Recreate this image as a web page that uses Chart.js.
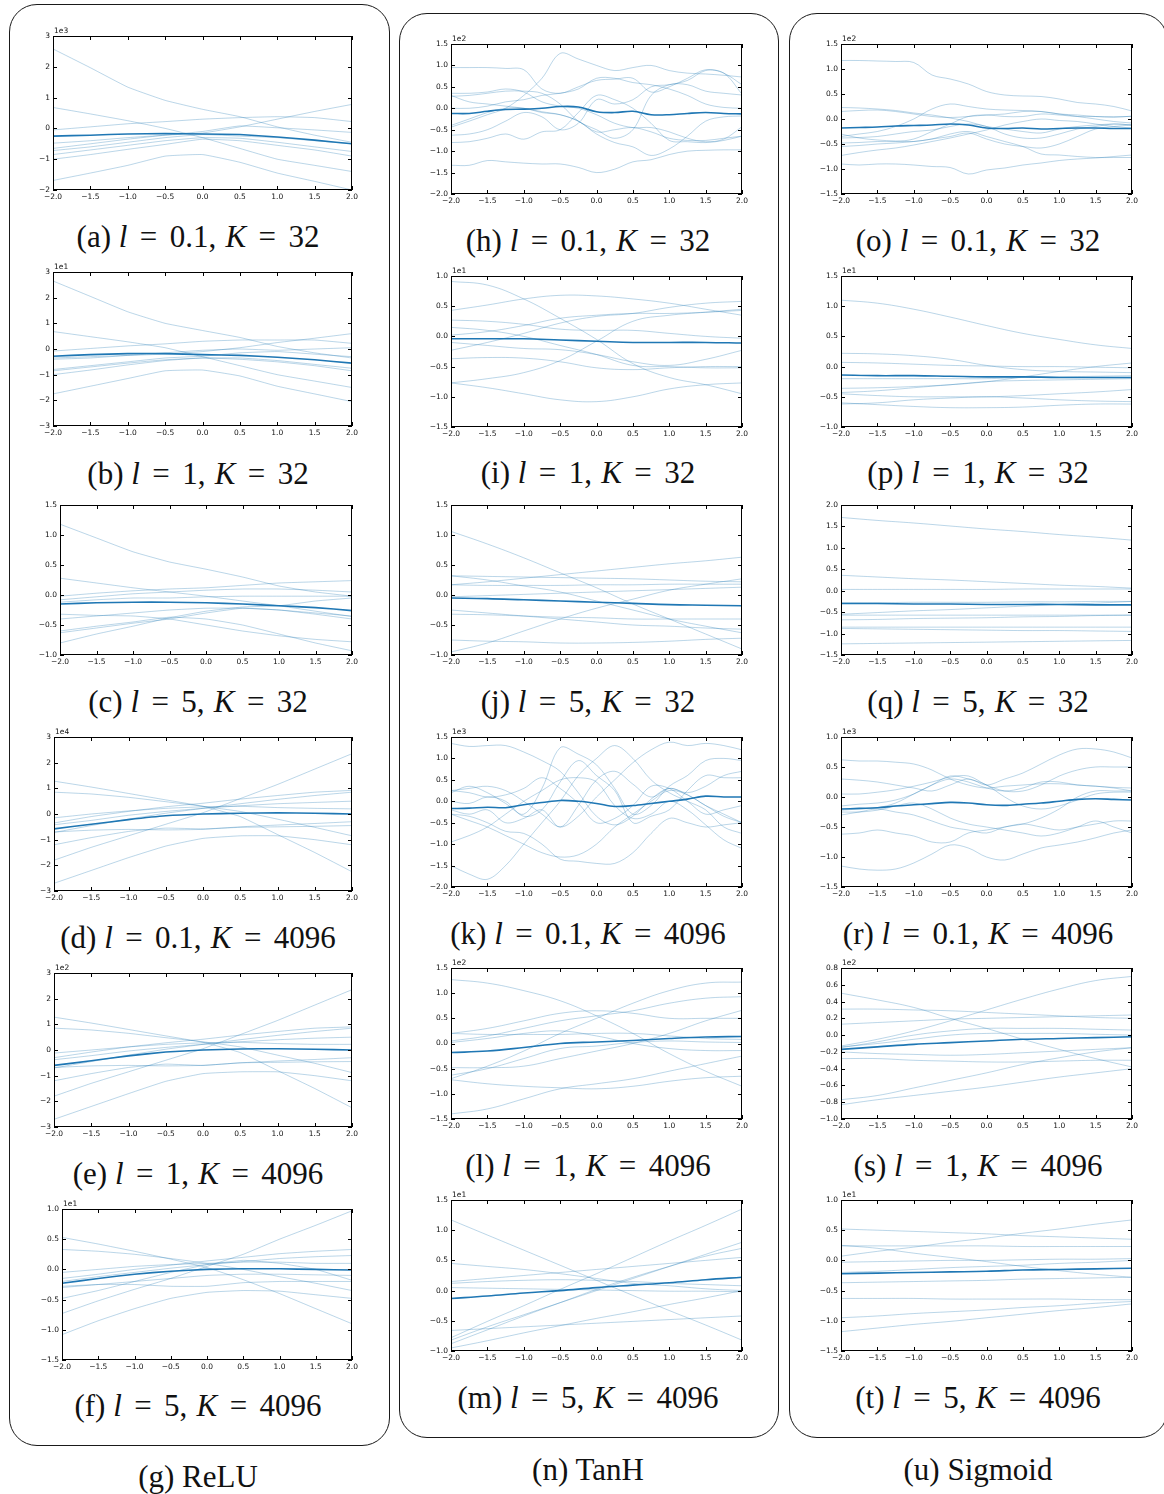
<!DOCTYPE html>
<html>
<head>
<meta charset="utf-8">
<script src="https://cdn.jsdelivr.net/npm/chart.js@4.4.1/dist/chart.umd.min.js"></script>
<style>
  html, body { margin: 0; padding: 0; background: #fff; }
  body { width: 1164px; height: 1494px; position: relative; overflow: hidden; }
  .frame { position: absolute; border: 1.2px solid #1a1a1a; border-radius: 28px; box-sizing: border-box; }
  canvas { position: absolute; }
  .cap { position: absolute; width: 420px; text-align: center; font-family: "Liberation Serif", "Times New Roman", serif;
         font-size: 31px; line-height: 36px; color: #111; white-space: nowrap; }
  .cap i { font-style: italic; }
  .cap .eq { margin: 0 0.4em; }
  .cap .th { display: inline-block; width: 0.3em; }
</style>
</head>
<body>
<script>
// ---- sample inputs ----
const X_COARSE = [-2, -1.5, -1, -0.5, 0, 0.5, 1, 1.5, 2];
const X_FINE = [-2, -1.75, -1.5, -1.25, -1, -0.75, -0.5, -0.25, 0, 0.25, 0.5, 0.75, 1, 1.25, 1.5, 1.75, 2];

// ---- ReLU ----
const meanA = [-0.25, -0.22, -0.18, -0.17, -0.18, -0.2, -0.28, -0.38, -0.5];
const runsA = [
  [2.58, 1.97, 1.34, 0.91, 0.62, 0.38, 0.05, -0.22, -0.45],
  [0.68, 0.47, 0.25, 0.0, -0.3, -0.65, -1.0, -1.2, -1.4],
  [-1.69, -1.45, -1.2, -0.9, -0.85, -1.1, -1.45, -1.72, -2.0],
  [-0.05, 0.05, 0.15, 0.22, 0.3, 0.35, 0.38, 0.35, 0.22],
  [-0.48, -0.4, -0.3, -0.22, -0.15, 0.05, 0.3, 0.55, 0.78],
  [-0.65, -0.5, -0.35, -0.22, -0.1, 0.08, 0.02, -0.05, -0.13],
  [-0.72, -0.6, -0.45, -0.3, -0.2, -0.25, -0.3, -0.4, -0.5],
  [-0.85, -0.7, -0.55, -0.4, -0.3, -0.32, -0.45, -0.6, -0.75],
  [-1.0, -0.85, -0.68, -0.52, -0.35, -0.4, -0.55, -0.7, -0.9]
];
const meanB = [-0.28, -0.22, -0.18, -0.18, -0.22, -0.25, -0.32, -0.42, -0.55];
const runsB = [
  [2.65, 2.05, 1.45, 1.0, 0.72, 0.45, 0.1, -0.15, -0.35],
  [0.68, 0.48, 0.28, 0.05, -0.3, -0.65, -1.0, -1.25, -1.5],
  [-1.75, -1.45, -1.15, -0.85, -0.82, -1.05, -1.45, -1.75, -2.05],
  [-0.08, 0.02, 0.12, 0.2, 0.3, 0.35, 0.35, 0.35, 0.22],
  [-0.35, -0.3, -0.25, -0.2, -0.1, 0.05, 0.25, 0.42, 0.6],
  [-0.4, -0.35, -0.25, -0.15, -0.05, 0.0, -0.05, 0.0, 0.05],
  [-0.8, -0.65, -0.5, -0.35, -0.28, -0.15, -0.1, -0.2, -0.3],
  [-0.85, -0.7, -0.55, -0.42, -0.35, -0.35, -0.45, -0.6, -0.75],
  [-1.0, -0.82, -0.62, -0.45, -0.35, -0.4, -0.5, -0.65, -0.85]
];
const meanC = [-0.15, -0.13, -0.12, -0.12, -0.13, -0.15, -0.18, -0.21, -0.26];
const runsC = [
  [1.18, 0.95, 0.72, 0.55, 0.43, 0.3, 0.15, 0.05, -0.02],
  [0.28, 0.2, 0.12, 0.05, -0.02, -0.1, -0.18, -0.27, -0.36],
  [-0.02, 0.03, 0.07, 0.1, 0.12, 0.16, 0.2, 0.22, 0.24],
  [-0.08, -0.03, 0.02, 0.05, 0.08, 0.1, 0.1, 0.08, 0.05],
  [-0.12, -0.08, -0.05, -0.05, -0.03, -0.02, -0.02, -0.02, -0.02],
  [-0.32, -0.34, -0.35, -0.4, -0.5, -0.6, -0.68, -0.74, -0.78],
  [-0.4, -0.35, -0.3, -0.25, -0.22, -0.22, -0.25, -0.3, -0.35],
  [-0.6, -0.52, -0.45, -0.37, -0.4, -0.5, -0.65, -0.8, -0.93],
  [-0.63, -0.55, -0.47, -0.4, -0.3, -0.22, -0.25, -0.32, -0.4],
  [-0.8, -0.65, -0.52, -0.38, -0.27, -0.2, -0.18, -0.1, -0.05]
];
const meanD = [-0.58, -0.4, -0.22, -0.07, 0.0, 0.03, 0.05, 0.03, 0.0];
const runsD = [
  [1.28, 1.05, 0.8, 0.55, 0.3, -0.1, -0.8, -1.5, -2.25],
  [0.85, 0.78, 0.65, 0.48, 0.3, 0.1, -0.2, -0.52, -0.85],
  [-0.15, 0.0, 0.12, 0.22, 0.28, 0.3, 0.25, 0.22, 0.2],
  [-0.35, -0.1, 0.1, 0.28, 0.42, 0.58, 0.72, 0.85, 0.92],
  [-0.42, -0.25, -0.05, 0.1, 0.22, 0.32, 0.4, 0.45, 0.5],
  [-0.7, -0.63, -0.6, -0.62, -0.6, -0.5, -0.43, -0.37, -0.3],
  [-0.72, -0.45, -0.2, 0.03, 0.22, 0.4, 0.57, 0.72, 0.85],
  [-1.2, -0.92, -0.68, -0.55, -0.58, -0.52, -0.5, -0.48, -0.45],
  [-1.8, -1.3, -0.85, -0.4, 0.05, 0.6, 1.15, 1.75, 2.35],
  [-2.7, -2.2, -1.7, -1.25, -0.95, -0.85, -0.85, -1.0, -1.2]
];
const meanE = [-0.6, -0.42, -0.23, -0.08, 0.0, 0.04, 0.05, 0.03, 0.0];
const runsE = [
  [1.28, 1.05, 0.8, 0.55, 0.3, -0.1, -0.8, -1.5, -2.25],
  [0.85, 0.78, 0.65, 0.48, 0.32, 0.12, -0.2, -0.52, -0.88],
  [-0.12, 0.0, 0.12, 0.22, 0.28, 0.3, 0.25, 0.22, 0.22],
  [-0.3, -0.08, 0.12, 0.28, 0.42, 0.58, 0.72, 0.85, 0.9],
  [-0.38, -0.22, -0.04, 0.1, 0.22, 0.32, 0.4, 0.46, 0.5],
  [-0.68, -0.62, -0.6, -0.62, -0.6, -0.5, -0.43, -0.37, -0.3],
  [-0.7, -0.45, -0.2, 0.03, 0.22, 0.4, 0.57, 0.72, 0.85],
  [-1.2, -0.92, -0.68, -0.55, -0.6, -0.5, -0.48, -0.46, -0.45],
  [-1.8, -1.3, -0.85, -0.4, 0.05, 0.6, 1.15, 1.75, 2.35],
  [-2.7, -2.2, -1.7, -1.22, -0.92, -0.85, -0.85, -1.0, -1.2]
];
const meanF = [-0.23, -0.15, -0.08, -0.03, 0.0, 0.01, 0.01, 0.0, -0.01];
const runsF = [
  [0.53, 0.42, 0.3, 0.17, 0.03, -0.17, -0.4, -0.65, -0.9],
  [0.33, 0.3, 0.25, 0.18, 0.1, 0.0, -0.12, -0.23, -0.35],
  [-0.05, 0.0, 0.05, 0.08, 0.1, 0.12, 0.12, 0.1, 0.1],
  [-0.15, -0.08, 0.0, 0.07, 0.14, 0.2, 0.26, 0.3, 0.33],
  [-0.2, -0.12, -0.05, 0.02, 0.08, 0.13, 0.18, 0.21, 0.23],
  [-0.28, -0.25, -0.25, -0.28, -0.28, -0.22, -0.2, -0.2, -0.2],
  [-0.3, -0.25, -0.2, -0.15, -0.1, -0.08, -0.08, -0.09, -0.1],
  [-0.73, -0.52, -0.33, -0.15, 0.05, 0.25, 0.5, 0.73, 0.97],
  [-1.08, -0.85, -0.65, -0.48, -0.38, -0.35, -0.36, -0.42, -0.48],
  [-0.48, -0.35, -0.2, -0.05, 0.08, 0.15, 0.1, 0.0, -0.18]
];

// ---- TanH ----
const meanH = [-0.12, -0.12, -0.07, -0.03, -0.02, 0.0, 0.04, 0.03, -0.08, -0.1, -0.07, -0.15, -0.15, -0.12, -0.1, -0.12, -0.13];
const runsH = [
  [0.95, 0.95, 0.95, 0.93, 0.9, 0.45, 0.35, 0.5, 0.65, 0.68, 0.7, 0.38, 0.5, 0.7, 0.9, 0.82, 0.55],
  [-0.44, -0.3, -0.15, 0.0, 0.3, 0.7, 1.28, 1.15, 1.0, 0.88, 0.95, 1.0, 0.88, 0.82, 0.8, 0.77, 0.73],
  [0.35, 0.35, 0.38, 0.45, 0.38, 0.15, 0.05, 0.0, -0.15, -0.35, -0.45, -0.45, -0.55, -0.7, -0.78, -0.72, -0.43],
  [0.3, 0.15, 0.1, 0.05, 0.0, -0.08, -0.15, -0.3, -0.55, -0.5, -0.45, -0.55, -0.7, -0.75, -0.75, -0.7, -0.65],
  [0.28, 0.3, 0.35, 0.4, 0.4, 0.35, 0.1, -0.3, -0.5, -0.7, -0.5, 0.3, 0.55, 0.55, 0.4, 0.35, 0.31],
  [0.0, 0.0, 0.05, 0.15, 0.2, 0.3, 0.35, 0.45, 0.7, 0.7, 0.6, 0.55, 0.45, 0.3, 0.1, 0.02, 0.0],
  [-0.4, -0.25, -0.1, 0.0, 0.0, -0.1, -0.15, -0.3, -0.6, -0.8, -0.9, -1.1, -0.95, -0.65, -0.3, -0.2, -0.18],
  [-0.63, -0.6, -0.5, -0.3, -0.1, -0.2, -0.5, -0.35, 0.2, 0.1, 0.2, 0.5, 0.55, 0.65, 0.88, 0.82, 0.33],
  [-0.8, -0.78, -0.7, -0.6, -0.72, -0.55, -0.5, -0.1, 0.3, 0.2, 0.0, -0.35, -0.75, -0.78, -0.8, -0.75, -0.65],
  [-1.33, -1.33, -1.22, -1.25, -1.28, -1.3, -1.3, -1.38, -1.5, -1.42, -1.25, -1.2, -1.08, -1.0, -0.98, -0.97, -0.97]
];
const meanI = [-0.04, -0.04, -0.04, -0.06, -0.08, -0.1, -0.1, -0.1, -0.11];
const runsI = [
  [0.91, 0.85, 0.62, 0.3, -0.05, -0.45, -0.68, -0.8, -0.95],
  [0.43, 0.52, 0.62, 0.68, 0.67, 0.62, 0.55, 0.45, 0.35],
  [0.27, 0.25, 0.2, 0.12, 0.1, 0.1, 0.05, 0.0, -0.03],
  [0.15, 0.1, 0.0, -0.15, -0.3, -0.48, -0.5, -0.52, -0.52],
  [0.02, 0.08, 0.18, 0.3, 0.35, 0.38, 0.38, 0.4, 0.43],
  [-0.1, -0.15, -0.2, -0.22, -0.3, -0.42, -0.48, -0.38, -0.23],
  [-0.23, -0.1, 0.05, 0.22, 0.33, 0.38, 0.48, 0.55, 0.58],
  [-0.37, -0.35, -0.36, -0.42, -0.52, -0.55, -0.52, -0.5, -0.5],
  [-0.77, -0.7, -0.6, -0.4, -0.08, 0.25, 0.35, 0.4, 0.45],
  [-0.77, -0.85, -0.95, -1.05, -1.08, -1.0, -0.87, -0.8, -0.77]
];
const meanJ = [-0.05, -0.06, -0.08, -0.1, -0.12, -0.14, -0.16, -0.17, -0.18];
const runsJ = [
  [1.06, 0.85, 0.62, 0.37, 0.12, -0.15, -0.4, -0.65, -0.9],
  [0.32, 0.25, 0.15, 0.05, -0.1, -0.25, -0.4, -0.52, -0.63],
  [0.32, 0.31, 0.3, 0.29, 0.28, 0.27, 0.25, 0.23, 0.22],
  [0.17, 0.22, 0.28, 0.34, 0.4, 0.46, 0.52, 0.57, 0.63],
  [0.17, 0.16, 0.16, 0.16, 0.17, 0.17, 0.18, 0.18, 0.18],
  [-0.95, -0.8, -0.6, -0.4, -0.22, -0.07, 0.08, 0.18, 0.27],
  [-0.25, -0.3, -0.35, -0.4, -0.45, -0.5, -0.52, -0.55, -0.57],
  [-0.32, -0.33, -0.35, -0.37, -0.38, -0.4, -0.4, -0.4, -0.4],
  [-0.75, -0.77, -0.78, -0.8, -0.8, -0.79, -0.77, -0.74, -0.72],
  [-0.03, -0.01, 0.01, 0.03, 0.05, 0.07, 0.09, 0.11, 0.13]
];
const meanK = [-0.17, -0.16, -0.14, -0.15, -0.08, -0.03, 0.02, 0.0, -0.05, -0.12, -0.1, -0.05, 0.0, 0.05, 0.12, 0.1, 0.1];
const runsK = [
  [1.35, 1.28, 1.3, 1.3, 1.15, 0.95, 0.7, 0.2, -0.35, -0.55, -0.35, 0.05, 0.3, 0.15, -0.1, -0.35, -0.5],
  [0.25, 0.3, 0.35, 0.25, 0.0, -0.3, -0.6, -0.35, 0.1, 0.5, 0.9, 1.2, 1.38, 1.3, 1.35, 1.3, 1.2],
  [0.2, 0.35, 0.2, -0.05, -0.3, 0.3, 1.25, 1.1, 0.85, 0.3, -0.3, -0.1, 0.35, 0.6, 0.95, 1.0, 0.95],
  [0.0, -0.05, 0.1, 0.0, -0.35, -0.2, 0.45, 0.95, 0.6, 0.25, -0.5, -0.35, -0.2, 0.25, 0.6, 0.55, 0.55],
  [-0.2, -0.3, -0.2, -0.5, -0.4, -0.2, -0.6, -0.1, 0.5, 0.7, 0.4, 0.1, 0.3, 0.2, 0.35, 0.6, 0.7],
  [-0.3, -0.45, -0.6, -0.8, -1.0, -1.2, -1.3, -1.25, -1.0, -0.6, -0.3, 0.0, 0.25, 0.15, -0.1, -0.3, -0.5],
  [-0.95, -0.8, -0.6, -0.3, 0.0, 0.25, 0.5, 0.55, 0.45, -0.1, -0.4, -0.3, 0.0, -0.2, -0.55, -0.9, -1.1],
  [-1.5, -1.7, -1.82, -1.5, -1.0, -0.5, 0.0, 0.6, 1.0, 1.3, 1.0, 0.5, 0.2, 0.0, -0.2, -0.6, -0.75],
  [-0.3, -0.35, -0.5, -0.7, -0.75, -1.0, -1.35, -1.4, -1.45, -1.45, -1.2, -0.75, -0.4, -0.5, -0.6, -0.55, -0.5],
  [0.25, 0.2, 0.1, 0.15, 0.3, 0.55, 0.3, -0.05, -0.5, -0.4, -0.1, 0.35, 0.3, 0.0, -0.3, -0.2, -0.1]
];
const meanL = [-0.18, -0.15, -0.08, 0.0, 0.03, 0.06, 0.1, 0.13, 0.14];
const runsL = [
  [1.27, 1.2, 1.05, 0.85, 0.55, 0.2, -0.2, -0.55, -0.85],
  [0.2, 0.3, 0.45, 0.6, 0.65, 0.6, 0.5, 0.5, 0.5],
  [-0.7, -0.45, -0.15, 0.2, 0.5, 0.8, 1.05, 1.2, 1.22],
  [0.05, 0.15, 0.3, 0.45, 0.55, 0.65, 0.8, 0.9, 0.93],
  [0.02, 0.1, 0.2, 0.25, 0.15, 0.0, -0.1, -0.14, -0.14],
  [0.2, 0.18, 0.18, 0.18, 0.2, 0.2, 0.15, 0.1, 0.08],
  [-0.48, -0.48, -0.45, -0.3, -0.15, 0.0, 0.2, 0.45, 0.66],
  [-0.63, -0.5, -0.3, -0.1, -0.05, 0.02, 0.05, 0.03, 0.02],
  [-0.72, -0.8, -0.85, -0.88, -0.9, -0.85, -0.75, -0.68, -0.65],
  [-1.4, -1.3, -1.1, -0.9, -0.8, -0.7, -0.55, -0.4, -0.25]
];
const meanM = [-0.13, -0.09, -0.04, 0.0, 0.05, 0.09, 0.13, 0.18, 0.22];
const runsM = [
  [1.17, 0.92, 0.67, 0.42, 0.17, -0.08, -0.33, -0.57, -0.82],
  [0.45, 0.4, 0.35, 0.28, 0.2, 0.12, 0.08, 0.03, 0.0],
  [0.15, 0.2, 0.25, 0.3, 0.35, 0.4, 0.45, 0.5, 0.55],
  [0.12, 0.15, 0.17, 0.18, 0.17, 0.15, 0.12, 0.1, 0.08],
  [0.05, 0.04, 0.03, 0.02, 0.01, 0.0, -0.01, -0.01, -0.02],
  [-0.78, -0.51, -0.25, 0.02, 0.28, 0.55, 0.82, 1.08, 1.35],
  [-0.82, -0.6, -0.4, -0.2, 0.0, 0.2, 0.4, 0.6, 0.8],
  [-0.95, -0.83, -0.7, -0.58, -0.46, -0.35, -0.23, -0.12, 0.0],
  [-0.66, -0.63, -0.6, -0.57, -0.54, -0.51, -0.48, -0.45, -0.42],
  [-0.88, -0.65, -0.42, -0.2, 0.02, 0.22, 0.4, 0.57, 0.7]
];

// ---- Sigmoid ----
const meanO = [-0.18, -0.17, -0.16, -0.14, -0.13, -0.12, -0.1, -0.12, -0.18, -0.19, -0.18, -0.2, -0.19, -0.18, -0.18, -0.19, -0.19];
const runsO = [
  [1.17, 1.17, 1.16, 1.15, 1.13, 0.88, 0.8, 0.7, 0.55, 0.48, 0.46, 0.45, 0.4, 0.33, 0.3, 0.25, 0.16],
  [0.23, 0.22, 0.2, 0.17, 0.12, 0.08, 0.02, -0.05, -0.15, -0.2, -0.25, -0.28, -0.2, -0.15, -0.12, -0.1, -0.12],
  [0.15, 0.17, 0.18, 0.15, 0.1, 0.05, 0.03, 0.05, 0.08, 0.1, 0.15, 0.15, 0.1, 0.08, 0.05, 0.03, 0.06],
  [-0.35, -0.3, -0.25, -0.15, 0.0, 0.2, 0.3, 0.25, 0.2, 0.18, 0.17, 0.15, 0.1, 0.05, 0.0, -0.05, -0.08],
  [-0.38, -0.37, -0.35, -0.3, -0.25, -0.22, -0.15, -0.1, -0.15, -0.3, -0.38, -0.38, -0.3, -0.2, -0.15, -0.1, -0.12],
  [-0.48, -0.47, -0.45, -0.45, -0.4, -0.25, -0.1, 0.05, 0.08, 0.05, 0.05, 0.1, 0.08, 0.05, 0.05, 0.05, 0.05],
  [-0.55, -0.53, -0.5, -0.48, -0.45, -0.4, -0.3, -0.25, -0.35, -0.45, -0.55, -0.7, -0.72, -0.75, -0.77, -0.77, -0.77],
  [-0.73, -0.67, -0.62, -0.58, -0.52, -0.45, -0.38, -0.3, -0.22, -0.12, -0.05, 0.0, -0.03, -0.05, -0.1, -0.15, -0.18],
  [-0.3, -0.38, -0.42, -0.44, -0.45, -0.4, -0.35, -0.28, -0.4, -0.5, -0.55, -0.58, -0.5, -0.35, -0.2, -0.15, -0.12],
  [-0.9, -0.92, -0.9, -0.9, -0.92, -0.95, -0.97, -1.1, -1.02, -0.98, -0.92, -0.88, -0.83, -0.8, -0.78, -0.75, -0.72]
];
const meanP = [-0.14, -0.15, -0.15, -0.16, -0.17, -0.17, -0.18, -0.18, -0.18];
const runsP = [
  [1.1, 1.05, 0.95, 0.82, 0.68, 0.55, 0.45, 0.36, 0.3],
  [0.22, 0.21, 0.18, 0.12, 0.02, -0.05, -0.08, -0.09, -0.1],
  [0.07, 0.06, 0.04, 0.02, 0.01, 0.0, 0.0, -0.01, -0.02],
  [-0.2, -0.2, -0.2, -0.2, -0.2, -0.18, -0.17, -0.16, -0.15],
  [-0.36, -0.35, -0.33, -0.3, -0.25, -0.17, -0.08, 0.0, 0.06],
  [-0.43, -0.4, -0.35, -0.3, -0.25, -0.23, -0.22, -0.21, -0.2],
  [-0.45, -0.48, -0.5, -0.5, -0.5, -0.48, -0.45, -0.42, -0.38],
  [-0.62, -0.6, -0.55, -0.52, -0.5, -0.52, -0.55, -0.57, -0.58],
  [-0.6, -0.63, -0.66, -0.68, -0.68, -0.67, -0.64, -0.62, -0.62]
];
const meanQ = [-0.3, -0.3, -0.31, -0.31, -0.32, -0.32, -0.32, -0.33, -0.33];
const runsQ = [
  [1.71, 1.64, 1.58, 1.51, 1.44, 1.38, 1.31, 1.25, 1.18],
  [0.36, 0.32, 0.28, 0.25, 0.21, 0.17, 0.13, 0.1, 0.06],
  [0.03, 0.03, 0.03, 0.03, 0.03, 0.04, 0.04, 0.04, 0.04],
  [-0.28, -0.28, -0.27, -0.27, -0.27, -0.26, -0.26, -0.25, -0.25],
  [-0.55, -0.51, -0.47, -0.44, -0.4, -0.36, -0.32, -0.29, -0.25],
  [-0.57, -0.57, -0.57, -0.57, -0.57, -0.57, -0.57, -0.57, -0.57],
  [-0.68, -0.67, -0.65, -0.64, -0.63, -0.61, -0.6, -0.58, -0.57],
  [-0.85, -0.85, -0.85, -0.85, -0.85, -0.85, -0.85, -0.85, -0.85],
  [-0.88, -0.89, -0.9, -0.91, -0.92, -0.93, -0.93, -0.94, -0.95],
  [-1.24, -1.23, -1.22, -1.21, -1.2, -1.19, -1.18, -1.17, -1.16]
];
const meanR = [-0.2, -0.19, -0.18, -0.15, -0.13, -0.11, -0.09, -0.1, -0.13, -0.14, -0.12, -0.1, -0.07, -0.04, -0.03, -0.04, -0.05];
const runsR = [
  [0.62, 0.6, 0.6, 0.58, 0.55, 0.45, 0.3, 0.2, 0.15, 0.18, 0.2, 0.22, 0.22, 0.2, 0.18, 0.16, 0.15],
  [0.3, 0.28, 0.25, 0.2, 0.15, 0.1, 0.2, 0.3, 0.2, 0.3, 0.4, 0.55, 0.7, 0.8, 0.8, 0.75, 0.65],
  [0.05, 0.05, 0.08, 0.12, 0.18, 0.25, 0.33, 0.35, 0.2, 0.1, 0.1, 0.2, 0.35, 0.45, 0.5, 0.5, 0.5],
  [-0.15, -0.12, -0.1, -0.05, 0.05, 0.2, 0.3, 0.25, 0.15, 0.1, 0.15, 0.25, 0.25, 0.2, 0.18, 0.15, 0.1],
  [-0.22, -0.2, -0.18, -0.1, 0.05, 0.2, 0.35, 0.3, 0.2, 0.0, -0.15, -0.2, -0.15, -0.05, 0.05, 0.08, 0.08],
  [-0.3, -0.25, -0.2, -0.25, -0.3, -0.4, -0.5, -0.55, -0.6, -0.5, -0.45, -0.35, -0.2, 0.0, 0.1, 0.1, 0.1],
  [-0.62, -0.6, -0.55, -0.6, -0.65, -0.75, -0.75, -0.6, -0.55, -0.5, -0.45, -0.5, -0.55, -0.5, -0.45, -0.4, -0.4],
  [-1.15, -1.2, -1.22, -1.2, -1.1, -0.95, -0.8, -0.85, -1.0, -1.05, -0.95, -0.85, -0.8, -0.75, -0.68, -0.6, -0.55],
  [-0.25, -0.25, -0.22, -0.15, -0.1, -0.2, -0.35, -0.45, -0.5, -0.55, -0.6, -0.65, -0.6, -0.5, -0.4, -0.5, -0.6]
];
const meanS = [-0.17, -0.14, -0.11, -0.09, -0.07, -0.05, -0.04, -0.03, -0.02];
const runsS = [
  [0.5, 0.42, 0.33, 0.2, 0.08, -0.05, -0.17, -0.28, -0.38],
  [0.31, 0.31, 0.3, 0.29, 0.27, 0.25, 0.23, 0.21, 0.2],
  [0.13, 0.15, 0.17, 0.19, 0.2, 0.21, 0.22, 0.23, 0.24],
  [-0.13, -0.05, 0.05, 0.17, 0.3, 0.43, 0.55, 0.65, 0.7],
  [-0.15, -0.08, 0.0, 0.05, 0.08, 0.08, 0.08, 0.07, 0.06],
  [-0.2, -0.22, -0.23, -0.24, -0.23, -0.21, -0.19, -0.17, -0.15],
  [-0.28, -0.28, -0.3, -0.31, -0.32, -0.32, -0.31, -0.3, -0.3],
  [-0.77, -0.72, -0.63, -0.54, -0.45, -0.35, -0.27, -0.2, -0.15],
  [-0.83, -0.77, -0.72, -0.67, -0.62, -0.56, -0.5, -0.45, -0.4],
  [-0.14, -0.1, -0.05, 0.0, 0.02, 0.02, 0.02, 0.01, 0.0]
];
const meanT = [-0.22, -0.21, -0.2, -0.19, -0.18, -0.16, -0.15, -0.14, -0.13];
const runsT = [
  [0.52, 0.5, 0.48, 0.46, 0.44, 0.41, 0.39, 0.37, 0.35],
  [0.25, 0.2, 0.12, 0.05, -0.02, -0.1, -0.17, -0.23, -0.28],
  [0.24, 0.24, 0.24, 0.24, 0.24, 0.23, 0.23, 0.23, 0.23],
  [0.07, 0.15, 0.22, 0.3, 0.37, 0.45, 0.52, 0.6, 0.67],
  [-0.03, -0.02, -0.01, 0.0, 0.0, 0.01, 0.02, 0.02, 0.03],
  [-0.2, -0.18, -0.15, -0.12, -0.1, -0.08, -0.05, -0.03, 0.0],
  [-0.37, -0.36, -0.35, -0.34, -0.33, -0.31, -0.3, -0.29, -0.28],
  [-0.63, -0.63, -0.63, -0.64, -0.64, -0.64, -0.64, -0.65, -0.65],
  [-0.95, -0.92, -0.88, -0.85, -0.82, -0.78, -0.75, -0.71, -0.68],
  [-1.18, -1.12, -1.06, -1.01, -0.95, -0.89, -0.83, -0.78, -0.72]
];

// y axis: [min, max, step, decimals, offset label]
const axisRelu = [[-2, 3, 1, 0, '1e3'], [-3, 3, 1, 0, '1e1'], [-1, 1.5, 0.5, 1, ''],
                  [-3, 3, 1, 0, '1e4'], [-3, 3, 1, 0, '1e2'], [-1.5, 1, 0.5, 1, '1e1']];
const axisTanh = [[-2, 1.5, 0.5, 1, '1e2'], [-1.5, 1, 0.5, 1, '1e1'], [-1, 1.5, 0.5, 1, ''],
                  [-2, 1.5, 0.5, 1, '1e3'], [-1.5, 1.5, 0.5, 1, '1e2'], [-1, 1.5, 0.5, 1, '1e1']];
const axisSigm = [[-1.5, 1.5, 0.5, 1, '1e2'], [-1, 1.5, 0.5, 1, '1e1'], [-1.5, 2, 0.5, 1, ''],
                  [-1.5, 1, 0.5, 1, '1e3'], [-1, 0.8, 0.2, 1, '1e2'], [-1.5, 1, 0.5, 1, '1e1']];

// caption parts
const lengthScales = ['0.1', '1', '5', '0.1', '1', '5'];
const widths = ['32', '32', '32', '4096', '4096', '4096'];
const columnNames = ['ReLU', 'TanH', 'Sigmoid'];
const columnLetters = [['a', 'b', 'c', 'd', 'e', 'f', 'g'], ['h', 'i', 'j', 'k', 'l', 'm', 'n'], ['o', 'p', 'q', 'r', 's', 't', 'u']];

// ---- layout (page pixels) ----
const columns = [
  { frame: [9, 4, 381, 1442], capX: 198, nameY: 1477, capY: [237, 474, 702, 938, 1174, 1406],
    boxes: [[53, 36, 351, 189], [53, 272, 351, 425], [60, 505, 351, 654], [54, 737, 351, 890], [54, 973, 351, 1126], [62, 1209, 351, 1359]],
    axes: axisRelu, means: [meanA, meanB, meanC, meanD, meanE, meanF], runs: [runsA, runsB, runsC, runsD, runsE, runsF],
    fine: [false, false, false, false, false, false], tension: 0.12 },
  { frame: [399, 13, 380, 1425], capX: 588, nameY: 1470, capY: [241, 473, 702, 934, 1166, 1398],
    boxes: [[451, 44, 741, 193], [451, 276, 741, 426], [451, 505, 741, 654], [451, 737, 741, 886], [451, 968, 741, 1118], [451, 1200, 741, 1350]],
    axes: axisTanh, means: [meanH, meanI, meanJ, meanK, meanL, meanM], runs: [runsH, runsI, runsJ, runsK, runsL, runsM],
    fine: [true, false, false, true, false, false], tension: 0.4 },
  { frame: [789, 13, 379, 1425], capX: 978, nameY: 1470, capY: [241, 473, 702, 934, 1166, 1398],
    boxes: [[841, 44, 1131, 193], [841, 276, 1131, 426], [841, 505, 1131, 654], [841, 737, 1131, 886], [841, 968, 1131, 1118], [841, 1200, 1131, 1350]],
    axes: axisSigm, means: [meanO, meanP, meanQ, meanR, meanS, meanT], runs: [runsO, runsP, runsQ, runsR, runsS, runsT],
    fine: [true, false, false, true, false, false], tension: 0.4 }
];

const LIGHT = 'rgba(31,119,180,0.3)';
const DARK = '#1f77b4';
const TICK_FONT = { family: 'DejaVu Sans', size: 7.5 };
const YW = 30, XH = 16, PT = 13, PR = 11;

function fmt(v, dec) {
  if (Math.abs(v) < 1e-9) v = 0;
  return v.toFixed(dec).replace('-', '\u2212');
}

// matplotlib-style frame, inward ticks on all sides and the offset text
const innerTicks = {
  id: 'innerTicks',
  afterDraw(chart, args, opts) {
    const { ctx, chartArea: ca, scales: { x, y } } = chart;
    ctx.save();
    ctx.strokeStyle = '#000';
    ctx.lineWidth = 1;
    ctx.beginPath();
    x.ticks.forEach(t => {
      const px = Math.round(x.getPixelForValue(t.value)) + 0.5;
      ctx.moveTo(px, ca.bottom); ctx.lineTo(px, ca.bottom - 4);
      ctx.moveTo(px, ca.top); ctx.lineTo(px, ca.top + 4);
    });
    y.ticks.forEach(t => {
      const py = Math.round(y.getPixelForValue(t.value)) + 0.5;
      ctx.moveTo(ca.left, py); ctx.lineTo(ca.left + 4, py);
      ctx.moveTo(ca.right, py); ctx.lineTo(ca.right - 4, py);
    });
    ctx.stroke();
    ctx.strokeRect(ca.left + 0.5, ca.top + 0.5, ca.right - ca.left - 1, ca.bottom - ca.top - 1);
    if (opts.offset) {
      ctx.fillStyle = '#111';
      ctx.font = '7.5px "DejaVu Sans"';
      ctx.textBaseline = 'bottom';
      ctx.textAlign = 'left';
      ctx.fillText(opts.offset, ca.left + 1, ca.top - 1);
    }
    ctx.restore();
  }
};

function addDiv(cls, left, top, width, height) {
  const d = document.createElement('div');
  d.className = cls;
  d.style.left = left + 'px'; d.style.top = top + 'px';
  if (width) d.style.width = width + 'px';
  if (height) d.style.height = height + 'px';
  document.body.appendChild(d);
  return d;
}

function drawPanel(box, axis, xs, mean, runs, tension) {
  const [L, T, R, B] = box;
  const w = YW + (R - L + 1) + PR;
  const h = PT + (B - T + 1) + XH;
  const canvas = document.createElement('canvas');
  canvas.width = w; canvas.height = h;
  canvas.style.width = w + 'px'; canvas.style.height = h + 'px';
  canvas.style.left = (L - YW) + 'px';
  canvas.style.top = (T - PT) + 'px';
  document.body.appendChild(canvas);

  const toPts = arr => xs.map((xv, i) => ({ x: xv, y: arr[i] }));
  const datasets = runs.map(r => ({ data: toPts(r), borderColor: LIGHT, borderWidth: 1, tension }));
  datasets.push({ data: toPts(mean), borderColor: DARK, borderWidth: 1.6, tension });

  const [ymin, ymax, ystep, ydec, offset] = axis;
  new Chart(canvas, {
    type: 'line',
    data: { datasets },
    plugins: [innerTicks],
    options: {
      responsive: false,
      animation: false,
      devicePixelRatio: 1,
      events: [],
      layout: { padding: { top: PT, right: PR, left: 0, bottom: 0 } },
      elements: { point: { radius: 0 } },
      plugins: { legend: { display: false }, tooltip: { enabled: false }, innerTicks: { offset } },
      scales: {
        x: {
          type: 'linear', min: -2, max: 2,
          grid: { display: false, drawTicks: false }, border: { display: false },
          ticks: { stepSize: 0.5, autoSkip: false, maxRotation: 0, padding: 3, color: '#111', font: TICK_FONT,
                   callback: v => fmt(v, 1) },
          afterFit: s => { s.height = XH; }
        },
        y: {
          type: 'linear', min: ymin, max: ymax,
          grid: { display: false, drawTicks: false }, border: { display: false },
          ticks: { stepSize: ystep, autoSkip: false, padding: 3, color: '#111', font: TICK_FONT,
                   callback: v => fmt(v, ydec) },
          afterFit: s => { s.width = YW; }
        }
      }
    }
  });
}

columns.forEach((col, ci) => {
  const [fl, ft, fw, fh] = col.frame;
  addDiv('frame', fl, ft, fw, fh);
  col.boxes.forEach((box, pi) => {
    const xs = col.fine[pi] ? X_FINE : X_COARSE;
    drawPanel(box, col.axes[pi], xs, col.means[pi], col.runs[pi], col.fine[pi] ? 0.35 : col.tension);
    const cap = addDiv('cap', col.capX - 210, col.capY[pi] - 18);
    cap.innerHTML = '(' + columnLetters[ci][pi] + ')&nbsp;<i>l</i><span class="eq">=</span>' + lengthScales[pi] +
                    ',<span class="th"></span><i>K</i><span class="eq">=</span>' + widths[pi];
  });
  const name = addDiv('cap', col.capX - 210, col.nameY - 18);
  name.textContent = '(' + columnLetters[ci][6] + ') ' + columnNames[ci];
});
</script>
</body>
</html>
